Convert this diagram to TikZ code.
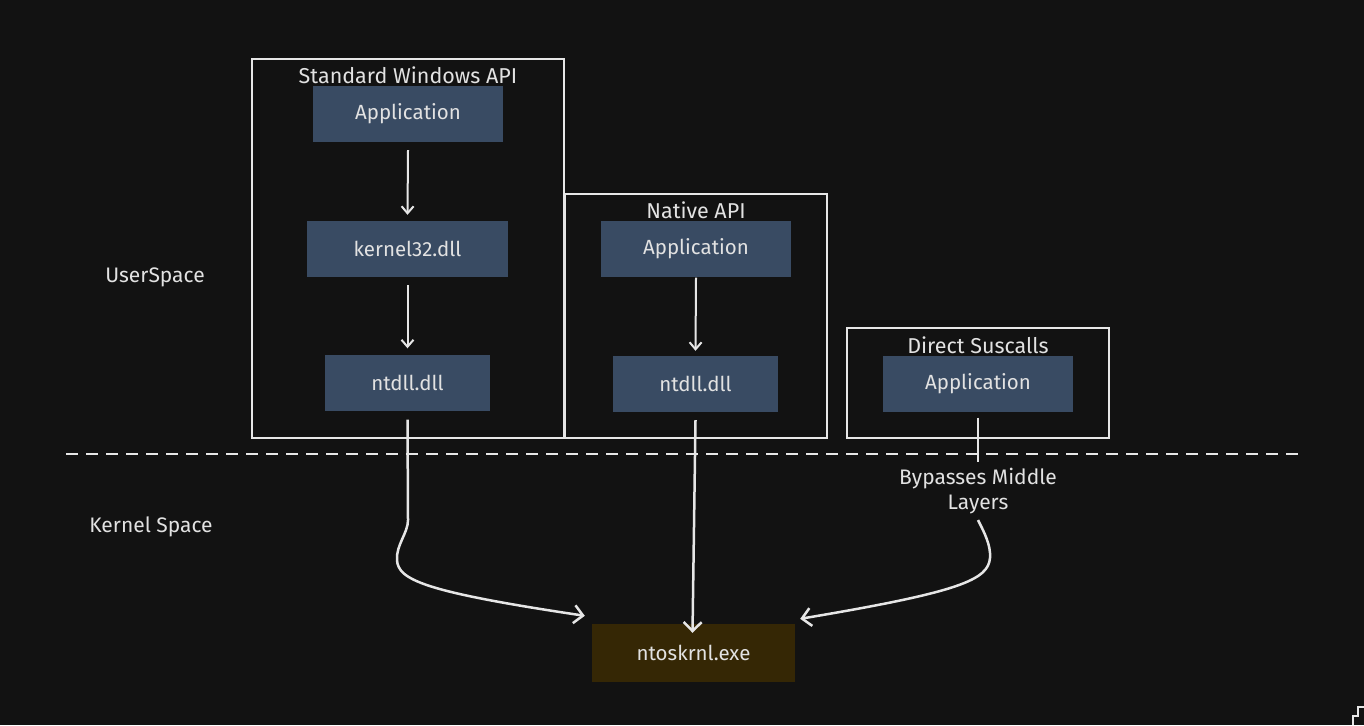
\documentclass[tikz,border=0pt]{standalone}
\usepackage{fontspec}
\setmainfont{Fira Sans}
\usetikzlibrary{arrows.meta}
\definecolor{bgc}{HTML}{121212}
\definecolor{boxblue}{HTML}{394B63}
\definecolor{kbrown}{HTML}{352705}
\definecolor{edge}{HTML}{E6E6E6}
\definecolor{txt}{HTML}{E2E2E2}
\begin{document}
\begin{tikzpicture}[x=1pt,y=-1pt,
  frame/.style={draw=edge, line width=1.8pt, inner sep=0pt},
  title/.style={text=txt, font=\fontsize{21.5}{24}\selectfont, inner sep=0pt},
  blk/.style={fill=boxblue, text=txt, font=\fontsize{20.5}{24}\selectfont, inner sep=0pt, minimum height=56pt},
  kblk/.style={fill=kbrown, text=txt, font=\fontsize{20.5}{24}\selectfont, inner sep=0pt, minimum width=203pt, minimum height=58pt},
  lbl/.style={text=txt, font=\fontsize{21}{25}\selectfont, inner sep=0pt, align=center},
  arr/.style={draw=edge, line width=2pt, -{Straight Barb[length=7pt,width=12pt,line width=2pt]}},
  bigarr/.style={draw=edge, line width=2.5pt, -{Straight Barb[length=9pt,width=18pt,line width=2.5pt]}},
  plain/.style={draw=edge, line width=2.5pt},
  divider/.style={draw=edge, line width=2pt, dash pattern=on 12pt off 8pt}]
\fill[bgc] (0,0) rectangle (1364,725);
\useasboundingbox (0,0) rectangle (1364,725);

% frames
\node[frame, minimum width=312pt, minimum height=379pt] (sw) at (408,248.5) {};
\node[title] (swt) at (408,75) {Standard Windows API};
\node[frame, minimum width=262pt, minimum height=244pt] (na) at (696,316) {};
\node[title] (nat) at (696,210) {Native API};
\node[frame, minimum width=262pt, minimum height=110pt] (ds) at (978,383) {};
\node[title] (dst) at (978,345) {Direct Suscalls};

% blocks
\node[blk, minimum width=190pt] (app1) at (408,114) {Application};
\node[blk, minimum width=201pt] (k32) at (407.5,249) {kernel32.dll};
\node[blk, minimum width=165pt] (nt1) at (407.5,382.5) {ntdll.dll};
\node[blk, minimum width=190pt] (app2) at (696,248.5) {Application};
\node[blk, minimum width=165pt] (nt2) at (695.5,384) {ntdll.dll};
\node[blk, minimum width=190pt] (app3) at (978,383.5) {Application};
\node[kblk] (krn) at (693.5,653) {ntoskrnl.exe};

% side labels
\node[lbl] (us) at (155,277) {UserSpace};
\node[lbl] (ks) at (151,527) {Kernel Space};
\node[lbl] (byp) at (978,491) {Bypasses Middle\\Layers};
\coordinate (bypin) at (978,462);

% divider
\coordinate (dl) at (66,454);
\coordinate (dr) at (1300,454);
\draw[divider] (dl) -- (dr);

% arrows
\draw[arr] ([yshift=-8pt]app1.south) -- ([yshift=6pt]k32.north);
\draw[arr] ([yshift=-8pt]k32.south) -- ([yshift=6pt]nt1.north);
\draw[arr] ([yshift=-1pt]app2.south) -- ([yshift=5pt]nt2.north);

\draw[bigarr] ([yshift=-9pt]nt1.south) -- (408,520)
  .. controls (408,533) and (396,545) .. (397,560)
  .. controls (398,580) and (425,592) .. ([xshift=-7pt,yshift=8pt]krn.north west);
\draw[bigarr] ([yshift=-8pt]nt2.south) -- ([xshift=-1pt,yshift=-9pt]krn.north);
\draw[plain] ([yshift=-6pt]app3.south) -- (bypin);
\draw[bigarr] (978,520) .. controls (984,532) and (991,545) .. (990,558)
  .. controls (988,580) and (960,592) .. ([xshift=5pt,yshift=5pt]krn.north east);

% corner mark
\draw[edge, line width=1.2pt] (1364,707) -- (1358,707) -- (1358,716) -- (1353,716) -- (1353,725);
\end{tikzpicture}
\end{document}
